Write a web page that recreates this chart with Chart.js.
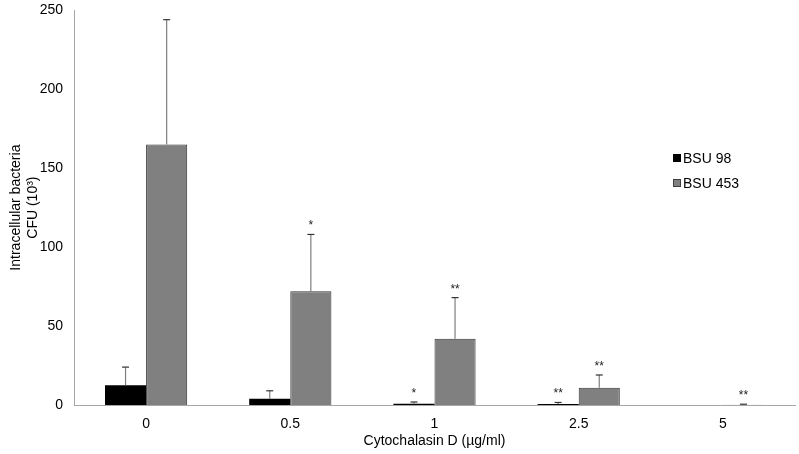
<!DOCTYPE html>
<html>
<head>
<meta charset="utf-8">
<script src="https://cdn.jsdelivr.net/npm/chart.js@4"></script>
<style>
  body { margin: 0; background: #fff; }
  #wrap { width: 799px; height: 454px; }
</style>
</head>
<body>
<div id="wrap"><canvas id="chart" width="799" height="454"></canvas></div>
<script>
var categories = ["0", "0.5", "1", "2.5", "5"];
var seriesNames = ["BSU 98", "BSU 453"];
var bsu98 = [12.5, 4, 0.8, 0.7, 0];
var bsu453 = [165, 72, 42, 11, 0.2];
var bsu98Err = [11.5, 5, 1.1, 0.9, 0];
var bsu453Err = [79, 36, 26, 8, 0.3];
var bsu98Marks = ["", "", "*", "**", ""];
var bsu453Marks = ["", "*", "**", "**", "**"];
var yTicks = [0, 50, 100, 150, 200, 250];

var errors = [bsu98Err, bsu453Err];
var marks = [bsu98Marks, bsu453Marks];
var fontFamily = "'Liberation Sans', Arial, sans-serif";

// error bars and significance stars
var errorPlugin = {
  id: "errorBars",
  afterDatasetsDraw: function(chart) {
    var ctx = chart.ctx;
    var y = chart.scales.y;
    ctx.save();
    for (var i = 0; i < chart.data.datasets.length; i++) {
      var meta = chart.getDatasetMeta(i);
      var values = chart.data.datasets[i].data;
      for (var j = 0; j < values.length; j++) {
        var bar = meta.data[j];
        var top = values[j] + errors[i][j];
        var yTop = y.getPixelForValue(top);
        if (errors[i][j] > 0) {
          var yBase = y.getPixelForValue(values[j]);
          ctx.strokeStyle = "#7f7f7f";
          ctx.lineWidth = 1.2;
          ctx.beginPath();
          ctx.moveTo(bar.x, yBase);
          ctx.lineTo(bar.x, yTop);
          ctx.stroke();
          ctx.strokeStyle = "#333";
          ctx.beginPath();
          ctx.moveTo(bar.x - 3.5, yTop);
          ctx.lineTo(bar.x + 3.5, yTop);
          ctx.stroke();
        }
        if (marks[i][j]) {
          ctx.fillStyle = "#222";
          ctx.font = "12px " + fontFamily;
          ctx.textAlign = "center";
          ctx.textBaseline = "alphabetic";
          ctx.fillText(marks[i][j], bar.x, yTop - 5);
        }
      }
    }
    ctx.restore();
  }
};

// legend drawn inside the plot
var legendPlugin = {
  id: "innerLegend",
  afterDraw: function(chart) {
    var ctx = chart.ctx;
    var colors = ["#000000", "#808080"];
    ctx.save();
    ctx.font = "14px " + fontFamily;
    ctx.textBaseline = "middle";
    ctx.textAlign = "left";
    for (var i = 0; i < seriesNames.length; i++) {
      var ly = 158 + i * 25;
      ctx.fillStyle = colors[i];
      ctx.fillRect(673, ly - 4, 8, 8);
      if (i == 1) {
        ctx.strokeStyle = "#404040";
        ctx.lineWidth = 1;
        ctx.strokeRect(673.5, ly - 3.5, 7, 7);
      }
      ctx.fillStyle = "#000";
      ctx.fillText(seriesNames[i], 683, ly + 1);
    }
    ctx.restore();
  }
};

new Chart(document.getElementById("chart").getContext("2d"), {
  type: "bar",
  data: {
    labels: categories,
    datasets: [{
      label: seriesNames[0],
      data: bsu98,
      backgroundColor: "#000000",
      borderColor: "#000000",
      borderWidth: 0
    }, {
      label: seriesNames[1],
      data: bsu453,
      backgroundColor: "#808080",
      borderColor: "#333333",
      borderWidth: 1
    }]
  },
  options: {
    responsive: false,
    animation: false,
    layout: { padding: { left: 7, right: 4, top: 10, bottom: 0 } },
    datasets: { bar: { categoryPercentage: 0.57, barPercentage: 1 } },
    plugins: {
      legend: { display: false },
      tooltip: { enabled: false }
    },
    scales: {
      x: {
        grid: { display: false, drawTicks: false },
        border: { color: "#a6a6a6", width: 1 },
        ticks: { color: "#000", font: { family: fontFamily, size: 14 }, padding: 11 },
        title: { display: true, text: "Cytochalasin D (µg/ml)", color: "#000", font: { family: fontFamily, size: 14 }, padding: { top: 3 } },
        afterFit: function(scale) { scale.height = 49; }
      },
      y: {
        min: 0,
        max: 250,
        afterBuildTicks: function(scale) {
          scale.ticks = yTicks.map(function(v) { return { value: v }; });
        },
        grid: { display: false, drawOnChartArea: false, drawTicks: true, tickLength: 5, tickColor: "#a6a6a6" },
        border: { color: "#a6a6a6", width: 1 },
        ticks: { color: "#000", font: { family: fontFamily, size: 14, lineHeight: 0.6 }, padding: 6 },
        title: { display: true, text: ["Intracellular bacteria", "CFU (10³)"], color: "#000", font: { family: fontFamily, size: 14, lineHeight: 1.25 }, padding: 0 },
        afterFit: function(scale) { scale.width = 67; }
      }
    }
  },
  plugins: [errorPlugin, legendPlugin]
});
</script>
</body>
</html>
